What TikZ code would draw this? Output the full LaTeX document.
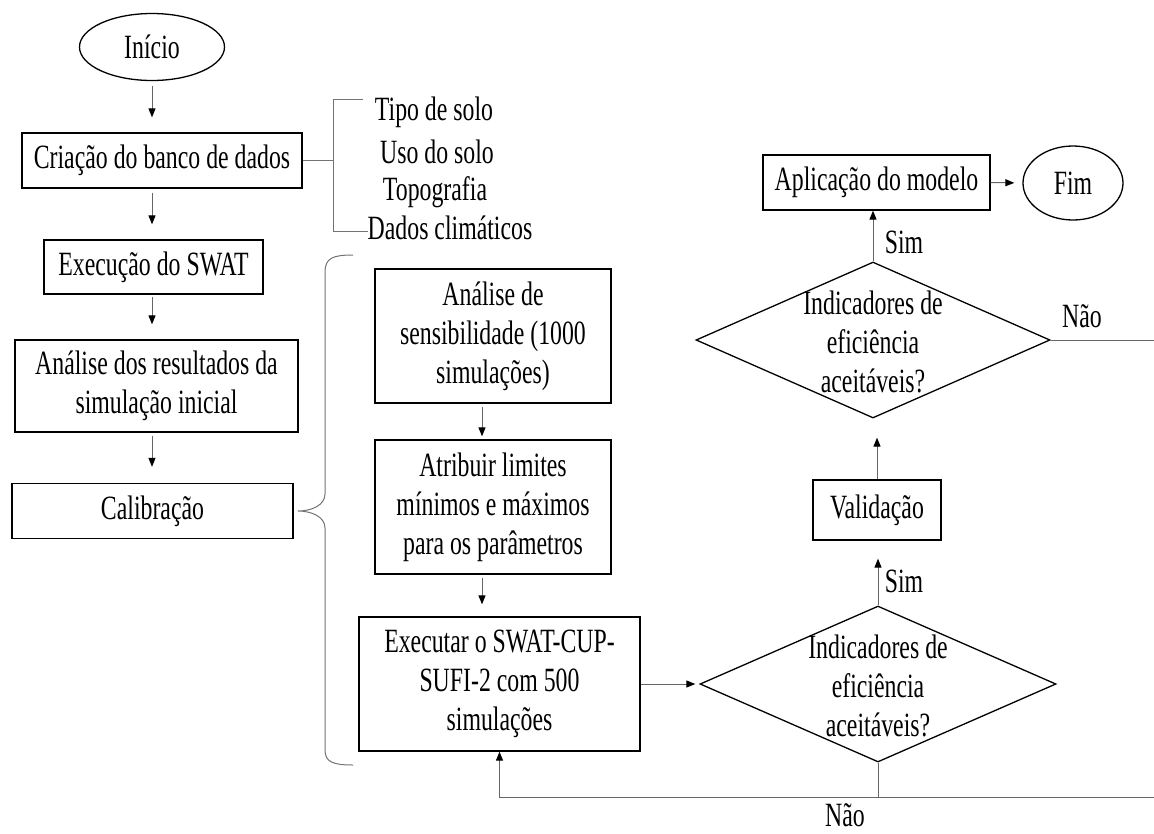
\documentclass[tikz,border=0pt]{standalone}
\usepackage{fontspec}
\setmainfont{Liberation Serif}[FakeStretch=0.7]
\usetikzlibrary{shapes.geometric,arrows.meta}
\begin{document}
\begin{tikzpicture}[x=1pt,y=-1pt,
  every node/.style={font=\fontsize{34}{39}\selectfont, inner sep=0pt, text=black},
  box/.style={draw=black, line width=1.3pt, align=center},
  term/.style={draw=black, line width=1.3pt, ellipse},
  dia/.style={draw=black, line width=1.3pt, diamond},
  conn/.style={draw=black!60, line width=1pt},
  arr/.style={conn, -{Triangle[length=9pt,width=7pt,color=black]}},
  brk/.style={draw=black!55, line width=1pt},
  lbl/.style={anchor=base}
]
\useasboundingbox (0,0) rectangle (1154,833);

% left column
\node[term, minimum width=145, minimum height=67] (inicio) at (152,47) {Início};
\node[box, minimum width=280, minimum height=55] (criacao) at (162,160.5) {Criação do banco de dados};
\node[box, minimum width=219, minimum height=54] (exec0) at (153.5,267) {Execução do SWAT};
\node[box, minimum width=283, minimum height=92] (anres) at (156.5,386) {Análise dos resultados da\\simulação inicial};
\node[box, minimum width=281, minimum height=55] (calib) at (152.5,511) {Calibração};

\draw[arr, shorten <=5pt, shorten >=15pt] (inicio.south) -- (inicio.south |- criacao.north);
\draw[arr, shorten <=4pt, shorten >=15pt] (inicio.south |- criacao.south) -- (inicio.south |- exec0.north);
\draw[arr, shorten <=2pt, shorten >=15pt] (inicio.south |- exec0.south) -- (inicio.south |- anres.north);
\draw[arr, shorten <=3pt, shorten >=16pt] (inicio.south |- anres.south) -- (inicio.south |- calib.north);

% data bracket
\coordinate (bmid) at (333,160.5);
\coordinate (btop) at (333,99);
\coordinate (bbot) at (333,231);
\node[lbl] (tipo) at (434,120) {Tipo de solo};
\node[lbl] (uso) at (437,163) {Uso do solo};
\node[lbl] (topo) at (435,200) {Topografia};
\node[lbl] (dados) at (450,239) {Dados climáticos};
\draw[brk] (criacao.east) -- (bmid);
\draw[brk] (363,99) -- (btop) -- (bbot) -- (368,231);

% brace
\coordinate (bracetip) at (298,511);
\draw[brk] (353,255) .. controls (333,255) and (325,258) .. (325,272)
  -- (325,494) .. controls (325,505) and (312,511) .. (bracetip)
  .. controls (312,511) and (325,517) .. (325,528)
  -- (325,750) .. controls (325,762) and (333,765) .. (353,765);

% middle column
\node[box, minimum width=236, minimum height=134] (sens) at (493,336) {Análise de\\sensibilidade (1000\\simulações)};
\node[box, minimum width=236, minimum height=134] (atrib) at (493,507) {Atribuir limites\\mínimos e máximos\\para os parâmetros};
\node[box, minimum width=281, minimum height=134] (execcup) at (499.5,684) {Executar o SWAT-CUP-\\SUFI-2 com 500\\simulações};

\draw[arr, shorten <=3pt, shorten >=3pt] ([xshift=-11pt]sens.south) -- ([xshift=-11pt]atrib.north);
\draw[arr, shorten <=3pt, shorten >=12pt] ([xshift=-11pt]atrib.south) -- ([xshift=-11pt]atrib.south |- execcup.north);

% right part
\node[dia, minimum width=356, minimum height=156] (dlow) at (878,684) {};
\node[align=center] (dlowt) at (878,686) {Indicadores de\\eficiência\\aceitáveis?};
\node[box, minimum width=128, minimum height=60] (val) at (877,510) {Validação};
\node[dia, minimum width=354, minimum height=156] (dup) at (873,340) {};
\node[align=center] (dupt) at (873,342) {Indicadores de\\eficiência\\aceitáveis?};
\node[box, minimum width=227, minimum height=55] (apl) at (876.5,182.5) {Aplicação do modelo};
\node[term, minimum width=100, minimum height=74] (fim) at (1073,183) {Fim};

\draw[arr, shorten >=4pt] (execcup.east) -- (dlow.west);
\draw[arr, shorten >=18pt] (dlow.north) -- (dlow.north |- val.south);
\draw[arr, shorten >=19pt] (val.north) -- (val.north |- dup.south);
\draw[arr] (dup.north) -- (dup.north |- apl.south);
\draw[arr, shorten >=8pt] (apl.east) -- (fim.west);

\node[lbl] (sim1) at (904,253) {Sim};
\node[lbl] (sim2) at (904,592) {Sim};
\node[lbl] (nao1) at (1082,327) {Não};
\node[lbl] (nao2) at (845,826) {Não};

\coordinate (rupper) at (1154,340);
\draw[conn] (dup.east) -- (rupper);
\coordinate (rlow) at (1154,797);
\draw[conn] (dlow.south) -- (dlow.south |- rlow);
\draw[arr] (rlow) -- (execcup.south |- rlow) -- (execcup.south);
\end{tikzpicture}
\end{document}
